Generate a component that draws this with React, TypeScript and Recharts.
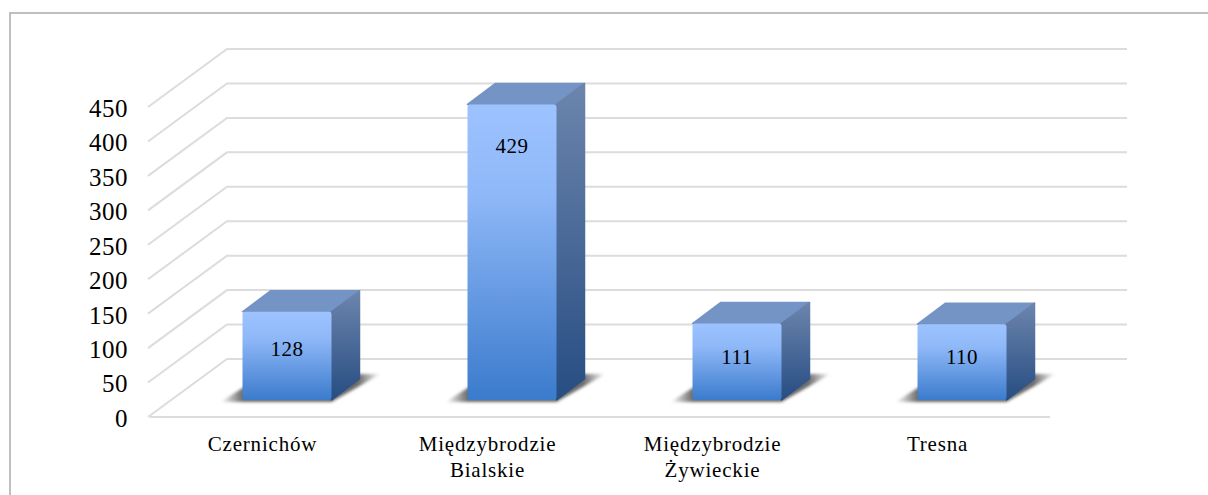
import { BarChart, Bar, XAxis, YAxis, CartesianGrid, LabelList } from 'recharts';

const categories = ['Czernichów', 'Międzybrodzie Bialskie', 'Międzybrodzie Żywieckie', 'Tresna'];
const values = [128, 429, 111, 110];
const yTicks = [0, 50, 100, 150, 200, 250, 300, 350, 400, 450];

const chartData = categories.map((name, i) => ({ name, value: values[i] }));

// how far each value label sits below the top of its bar
const labelDrop = [37, 42, 33, 33];

const FONT = '"Liberation Serif", serif';

// back wall offset from the front plane of the axis
const WALL_DX = 77;
const WALL_DY = -58;
// where the boxes stand on the floor, and how deep they are
const BAR_DX = 24.5;
const BAR_DY = -17;
const DEPTH_DX = 28;
const DEPTH_DY = -21;

function GridLine(props: any) {
  const { x1, x2, y1, y, height } = props;
  const isFloor = y1 >= y + height - 0.5;
  return (
    <g fill="none" stroke="#dcdcdc" strokeWidth={2}>
      <polyline points={`${x1 - 2},${y1} ${x1 + WALL_DX},${y1 + WALL_DY} ${x2 + WALL_DX},${y1 + WALL_DY}`} />
      {isFloor && <line x1={x1} y1={y1} x2={x2} y2={y1} />}
    </g>
  );
}

function Box(props: any) {
  const { x, y, width, height } = props;
  const left = x + BAR_DX;
  const top = y + BAR_DY;
  const right = left + width;
  const bottom = top + height;
  return (
    <g>
      <polygon
        points={`${left - 22},${bottom + 2} ${right},${bottom + 2} ${right + DEPTH_DX + 21},${bottom + DEPTH_DY - 5} ${right + DEPTH_DX},${bottom + DEPTH_DY - 5} ${left},${bottom - 12}`}
        fill="url(#boxShadow)"
        filter="url(#shadowBlur)"
      />
      <polygon
        points={`${left},${top} ${left + DEPTH_DX},${top + DEPTH_DY} ${right + DEPTH_DX},${top + DEPTH_DY} ${right},${top}`}
        fill="#7394c4"
        stroke="#7394c4"
        strokeWidth={1.5}
        strokeLinejoin="round"
      />
      <polygon
        points={`${right},${top} ${right + DEPTH_DX},${top + DEPTH_DY} ${right + DEPTH_DX},${bottom + DEPTH_DY} ${right},${bottom}`}
        fill="url(#boxSide)"
        stroke="url(#boxSide)"
        strokeWidth={1.5}
        strokeLinejoin="round"
      />
      <rect x={left} y={top} width={width} height={height} rx={3} fill="url(#boxFront)" />
    </g>
  );
}

function ValueLabel(props: any) {
  const { x, y, width, value, index } = props;
  return (
    <text
      x={x + BAR_DX + width / 2}
      y={y + BAR_DY + labelDrop[index]}
      textAnchor="middle"
      dominantBaseline="central"
      fontFamily={FONT}
      fontSize={21}
      letterSpacing={0.5}
      fill="#000"
    >
      {value}
    </text>
  );
}

function CategoryTick(props: any) {
  const { x, y, payload } = props;
  return (
    <text textAnchor="middle" fontFamily={FONT} fontSize={21} letterSpacing={0.8} fill="#000">
      {String(payload.value)
        .split(' ')
        .map((word, i) => (
          <tspan key={word} x={x} y={y + 26 + i * 26}>
            {word}
          </tspan>
        ))}
    </text>
  );
}

export default function App() {
  return (
    <div style={{ position: 'absolute', left: 0, top: 0, width: 1208, height: 495, background: '#fff', overflow: 'hidden' }}>
      <div
        style={{
          position: 'absolute',
          left: 9,
          top: 12,
          width: 1199,
          height: 483,
          borderLeft: '2px solid #bfbfbf',
          borderTop: '2px solid #bfbfbf',
          boxSizing: 'border-box',
        }}
      />
      <div style={{ position: 'absolute', left: 0, top: 0 }}>
        <BarChart
          width={1208}
          height={495}
          data={chartData}
          barSize={89}
          margin={{ top: 107, right: 158, left: 0, bottom: 0 }}
        >
          <defs>
            <linearGradient id="boxFront" x1="0" y1="0" x2="0" y2="1">
              <stop offset="0%" stopColor="#9dc3ff" />
              <stop offset="30%" stopColor="#8fb8f8" />
              <stop offset="100%" stopColor="#3b7bcc" />
            </linearGradient>
            <linearGradient id="boxSide" x1="0" y1="0" x2="0" y2="1">
              <stop offset="0%" stopColor="#6c85ad" />
              <stop offset="100%" stopColor="#274d82" />
            </linearGradient>
            <linearGradient id="boxShadow" x1="0" y1="0" x2="1" y2="0">
              <stop offset="0%" stopColor="#6b6b6b" stopOpacity={0} />
              <stop offset="14%" stopColor="#6b6b6b" />
              <stop offset="86%" stopColor="#6b6b6b" />
              <stop offset="100%" stopColor="#6b6b6b" stopOpacity={0} />
            </linearGradient>
            <filter id="shadowBlur" x="-20%" y="-50%" width="140%" height="200%">
              <feGaussianBlur stdDeviation="1.5" />
            </filter>
          </defs>
          <CartesianGrid vertical={false} horizontal={GridLine} />
          <XAxis
            dataKey="name"
            height={78}
            axisLine={false}
            tickLine={false}
            interval={0}
            tick={CategoryTick}
          />
          <YAxis
            width={150}
            domain={[0, 450]}
            ticks={yTicks}
            axisLine={false}
            tickLine={false}
            tickSize={0}
            tickMargin={22}
            dy={1}
            tick={{ fontFamily: FONT, fontSize: 25, fill: '#000', letterSpacing: 0.5 }}
          />
          <Bar dataKey="value" shape={Box} isAnimationActive={false}>
            <LabelList dataKey="value" content={ValueLabel} />
          </Bar>
        </BarChart>
      </div>
    </div>
  );
}
